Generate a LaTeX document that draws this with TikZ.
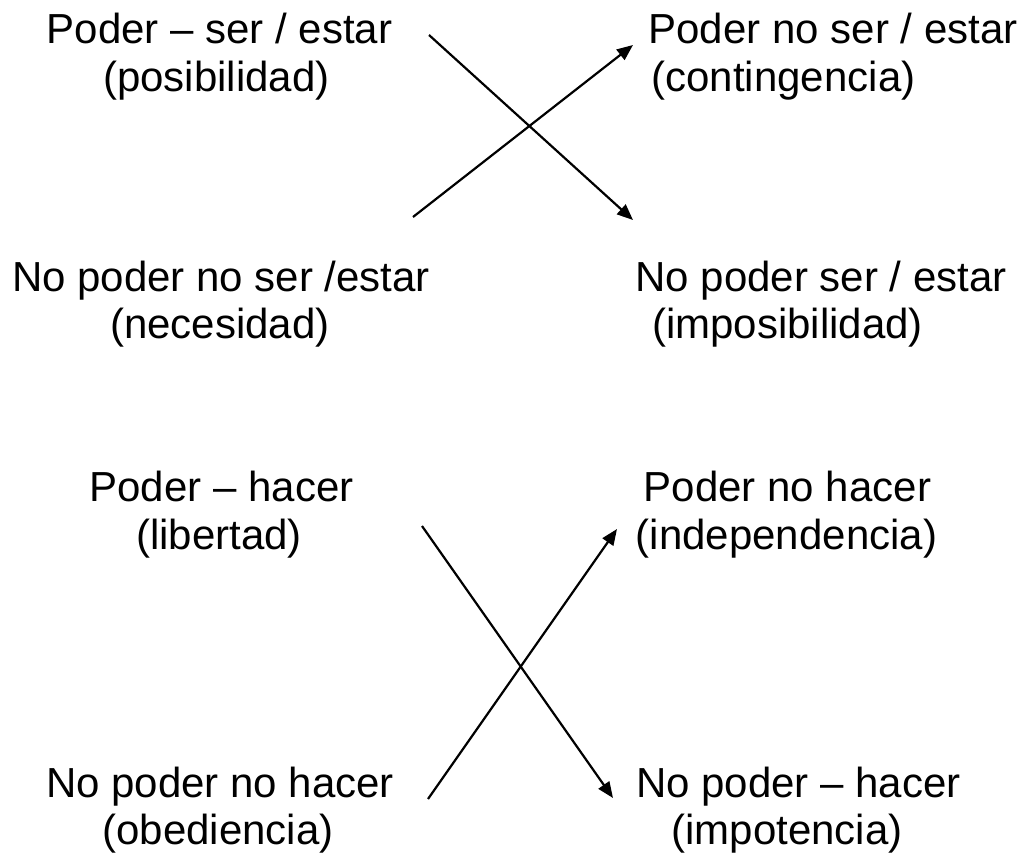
\documentclass[tikz,border=0pt]{standalone}
\usepackage{fontspec}
\setmainfont{Liberation Sans}
\usetikzlibrary{arrows.meta}
\begin{document}
\begin{tikzpicture}[x=1pt,y=-1pt,
  lbl/.style={inner sep=0pt,anchor=base,font=\fontsize{42}{48}\selectfont},
  arr/.style={line width=2.2pt,-{Triangle[length=16pt,width=13pt]}}]
\useasboundingbox (0,0) rectangle (1028,854);
% top block
\node[lbl] (l1a) at (219.5,43) {Poder – ser / estar};
\node[lbl] (l1b) at (216.5,91) {(posibilidad)};
\node[lbl] (r1a) at (833,43) {Poder no ser / estar};
\node[lbl] (r1b) at (783.5,91) {(contingencia)};
\node[lbl] (l2a) at (221,291) {No poder no ser /estar};
\node[lbl] (l2b) at (220,338) {(necesidad)};
\node[lbl] (r2a) at (821,291) {No poder ser / estar};
\node[lbl] (r2b) at (787.5,338) {(imposibilidad)};
% bottom block
\node[lbl] (l3a) at (221.5,501) {Poder – hacer};
\node[lbl] (l3b) at (219,549) {(libertad)};
\node[lbl] (r3a) at (787.5,501) {Poder no hacer};
\node[lbl] (r3b) at (786.5,549) {(independencia)};
\node[lbl] (l4a) at (220,797) {No poder no hacer};
\node[lbl] (l4b) at (218,844) {(obediencia)};
\node[lbl] (r4a) at (798.5,797) {No poder – hacer};
\node[lbl] (r4b) at (787,844) {(impotencia)};
% arrow ends
\coordinate (a1s) at (429,35);
\coordinate (a1e) at (633,220);
\coordinate (a2s) at (413,217);
\coordinate (a2e) at (633,45);
\coordinate (a3s) at (422,526);
\coordinate (a3e) at (613,798);
\coordinate (a4s) at (428,799);
\coordinate (a4e) at (617,529);
\draw[arr] (a1s) -- (a1e);
\draw[arr] (a2s) -- (a2e);
\draw[arr] (a3s) -- (a3e);
\draw[arr] (a4s) -- (a4e);
\end{tikzpicture}
\end{document}
